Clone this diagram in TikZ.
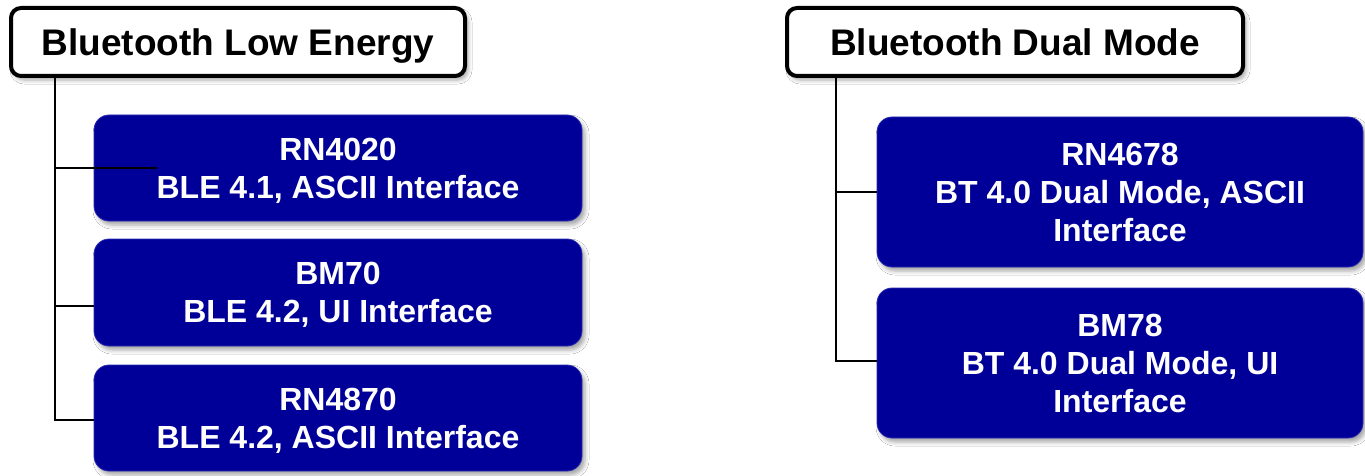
\documentclass[tikz,border=0pt]{standalone}
\usepackage{fontspec}
\setmainfont{Liberation Sans}
\usetikzlibrary{shadows.blur}
\definecolor{boxblue}{RGB}{0,0,153}
\definecolor{boxedge}{RGB}{45,45,175}
\begin{document}
\begin{tikzpicture}[x=1pt,y=-1pt,
  hdr/.style={draw=black, line width=4pt, fill=white, rounded corners=10pt,
    minimum height=68pt, inner sep=0pt, text depth=0pt,
    font=\fontsize{37}{44}\selectfont\bfseries,
    blur shadow={shadow xshift=3pt, shadow yshift=-4pt, shadow blur radius=4pt, shadow opacity=35}},
  modbox/.style={fill=boxblue, draw=boxedge, line width=0.8pt, rounded corners=15pt,
    text=white, align=center, inner sep=0pt,
    font=\fontsize{32}{38}\selectfont\bfseries,
    blur shadow={shadow xshift=3pt, shadow yshift=-4pt, shadow blur radius=4pt, shadow opacity=35}},
  link/.style={draw=black, line width=2pt}]
\useasboundingbox (0,0) rectangle (1365,476);
\fill[white] (0,0) rectangle (1365,476);

% left group
\node[hdr, minimum width=454pt] (h1) at (238,42) {Bluetooth Low Energy};
\node[modbox, minimum width=488pt, minimum height=106pt] (b1) at (338,168) {RN4020\\BLE 4.1\smash{,} ASCII Interface};
\node[modbox, minimum width=488pt, minimum height=107pt] (b2) at (338,292.5) {BM70\\BLE 4.2\smash{,} UI Interface};
\node[modbox, minimum width=488pt, minimum height=106pt] (b3) at (338,418) {RN4870\\BLE 4.2\smash{,} ASCII Interface};

% right group
\node[hdr, minimum width=456pt] (h2) at (1015,42) {Bluetooth Dual Mode};
\node[modbox, minimum width=486pt, minimum height=150pt] (r1) at (1120,192) {RN4678\\BT 4.0 Dual Mode, ASCII\\Interface};
\node[modbox, minimum width=486pt, minimum height=150pt] (r2) at (1120,363) {BM78\\BT 4.0 Dual Mode, UI\\Interface};

% connectors
\coordinate (t1) at (55,78);
\coordinate (e1) at (157,168);
\coordinate (e2) at (94,306);
\coordinate (e3) at (94,420);
\draw[link] (t1) |- (e3);
\draw[link] (t1 |- e1) -- (e1);
\draw[link] (t1 |- e2) -- (e2);

\coordinate (t2) at (836,78);
\coordinate (f1) at (877,192);
\coordinate (f2) at (877,361);
\draw[link] (t2) |- (f2);
\draw[link] (t2 |- f1) -- (f1);
\end{tikzpicture}
\end{document}
